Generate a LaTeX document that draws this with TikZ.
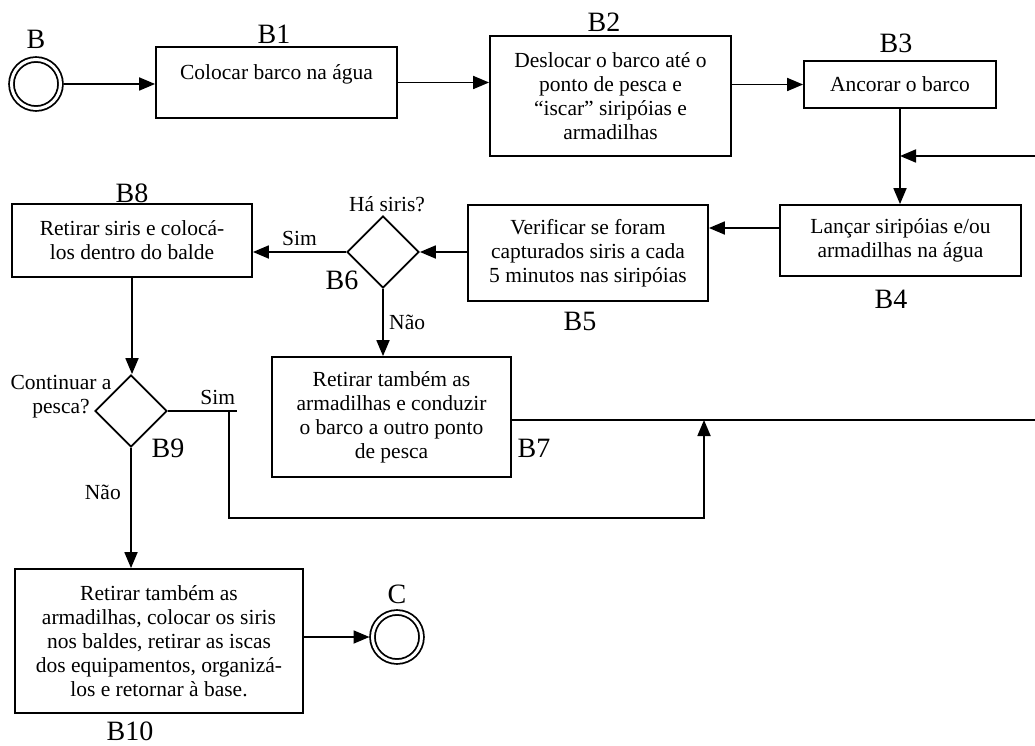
\documentclass[tikz,border=0pt]{standalone}
\usepackage{fontspec}
\setmainfont{Liberation Serif}
\usetikzlibrary{shapes.geometric,arrows.meta}

\begin{document}
\begin{tikzpicture}[x=1pt, y=-1pt, line width=1.8pt, >={Triangle[length=16pt,width=13pt]},
		every node/.style = {font=\fontsize{21.5}{24}\selectfont},
		act/.style = {draw, rectangle, align=center, inner sep=0pt},
		dec/.style = {draw, diamond, minimum size=72pt, inner sep=0pt},
		term/.style = {draw, circle, double, double distance=3pt, minimum size=49pt, inner sep=0pt, outer sep=3pt},
		lbl/.style = {font=\fontsize{28}{30}\selectfont, inner sep=0pt}]

		\useasboundingbox (0,0) rectangle (1035,746);

		% start and end
		\node[term] (B) at (36,84) {};
		\node[term] (C) at (397,637) {};

		% activities
		\node[act, minimum width=241pt, minimum height=71pt, text depth=20pt] (B1) at (276.5,82.5) {Colocar barco na água};
		\node[act, minimum width=241pt, minimum height=120pt] (B2) at (610.5,96) {Deslocar o barco até o\\ponto de pesca e\\“iscar” siripóias e\\armadilhas};
		\node[act, minimum width=192pt, minimum height=47pt] (B3) at (900,84.5) {Ancorar o barco};
		\node[act, minimum width=241pt, minimum height=71pt] (B4) at (900.5,240.5) {Lançar siripóias e/ou\\armadilhas na água};
		\node[act, minimum width=240pt, minimum height=96pt] (B5) at (588,253) {Verificar se foram\\capturados siris a cada\\5 minutos nas siripóias};
		\node[dec] (B6) at (383,252) {};
		\node[act, minimum width=239pt, minimum height=120pt] (B7) at (391.5,417) {Retirar também as\\armadilhas e conduzir\\o barco a outro ponto\\de pesca};
		\node[act, minimum width=240pt, minimum height=73pt] (B8) at (132,240.5) {Retirar siris e colocá-\\los dentro do balde};
		\node[dec] (B9) at (131,411) {};
		\node[act, minimum width=288pt, minimum height=144pt] (B10) at (159,641) {Retirar também as\\armadilhas, colocar os siris\\nos baldes, retirar as iscas\\dos equipamentos, organizá-\\los e retornar à base.};

		% labels
		\node[lbl] (lB) at (36,39) {B};
		\node[lbl] (lC) at (397,594) {C};
		\node[lbl] (l1) at (274,34) {B1};
		\node[lbl] (l2) at (604,22) {B2};
		\node[lbl] (l3) at (896,43) {B3};
		\node[lbl] (l4) at (891,299) {B4};
		\node[lbl] (l5) at (580,321) {B5};
		\node[lbl] (l6) at (342,280) {B6};
		\node[lbl] (l7) at (534,448) {B7};
		\node[lbl] (l8) at (132,193) {B8};
		\node[lbl] (l9) at (168,448) {B9};
		\node[lbl] (l10) at (130,731) {B10};
		\node (q6) at (387,204) {Há siris?};
		\node[align=center] (q9) at (61,397) {Continuar a\\pesca?};

		% loop ends
		\coordinate (ret) at (1035,156);
		\coordinate (out7) at (1035,420);
		\coordinate (sim9) at (237,411);
		\coordinate (turn) at (229,411);
		\coordinate (back) at (704,518);

		% flow
		\draw[->] (B.east) -- (B.east -| B1.west);
		\draw[->] (B1.east) -- (B1.east -| B2.west);
		\draw[->] (B3.west -| B2.east) -- (B3.west);
		\draw[->] (B3.south) -- (B3.south |- B4.north);
		\draw[->] (ret) -- (ret -| B3.south);
		\draw[->] ([yshift=12.5pt]B4.west) -- ([yshift=12.5pt]B4.west -| B5.east);
		\draw[->] (B6.east -| B5.west) -- (B6.east);
		\draw[->] (B6.west) -- (B6.west -| B8.east) node[midway, above=2pt] {Sim};
		\draw[->] (B6.south) -- (B6.south |- B7.north) node[midway, right=2pt] {Não};
		\draw[->] (B8.south) -- (B8.south |- B9.north);
		\draw[->] (B9.south) -- (B9.south |- B10.north) node[pos=0.37, left=6pt] {Não};
		\draw (B9.east) -- (sim9) node[pos=0.72, above=2pt] {Sim};
		\draw[->] (turn) |- (back) -- (back |- out7);
		\draw (B7.east |- out7) -- (out7);
		\draw[->] (B10.east |- C.west) -- (C.west);
	\end{tikzpicture}
\end{document}
